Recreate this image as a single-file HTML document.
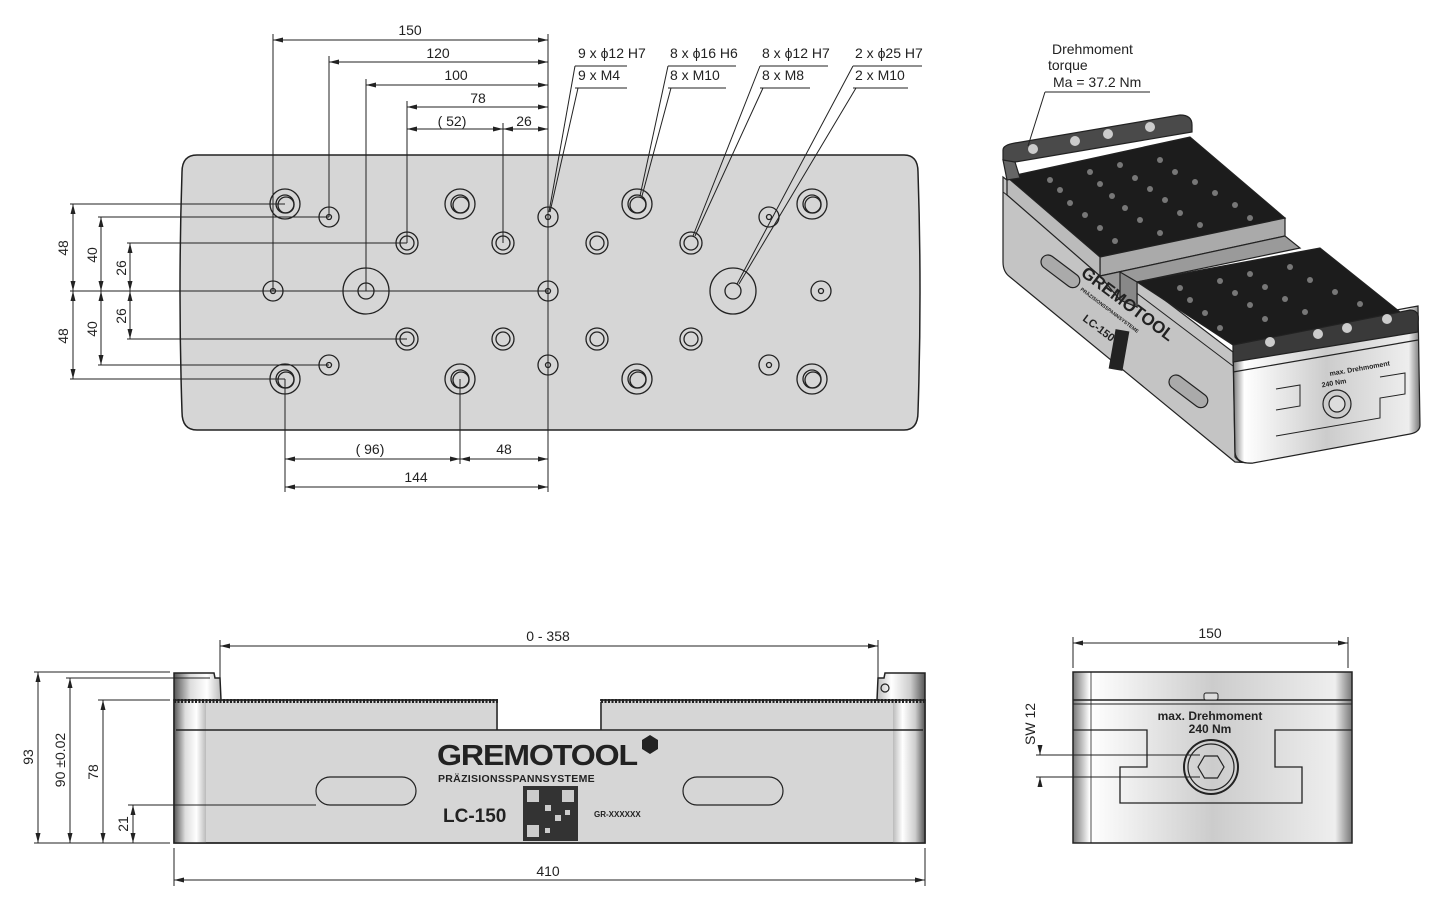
<!DOCTYPE html>
<html><head><meta charset="utf-8"><style>
html,body{margin:0;padding:0;background:#fff}
svg{display:block}
text{font-family:"Liberation Sans",sans-serif;fill:#222}
.d{font-size:14px;font-stretch:condensed}
</style></head><body>
<svg width="1445" height="923" viewBox="0 0 1445 923" xmlns="http://www.w3.org/2000/svg">
<defs>
<marker id="a" viewBox="0 0 10 6" refX="10" refY="3" markerWidth="10" markerHeight="6" orient="auto-start-reverse" markerUnits="userSpaceOnUse"><path d="M0,0.5L10,3L0,5.5z" fill="#222"/></marker>
<linearGradient id="cyl" x1="0" x2="1"><stop offset="0" stop-color="#555"/><stop offset="0.35" stop-color="#ddd"/><stop offset="0.7" stop-color="#fff"/><stop offset="1" stop-color="#bbb"/></linearGradient>
<linearGradient id="cylr" x1="0" x2="1"><stop offset="0" stop-color="#bbb"/><stop offset="0.3" stop-color="#fff"/><stop offset="0.7" stop-color="#ccc"/><stop offset="1" stop-color="#555"/></linearGradient>
<linearGradient id="side" x1="0" x2="1"><stop offset="0" stop-color="#777"/><stop offset="0.06" stop-color="#fff"/><stop offset="0.5" stop-color="#ccc"/><stop offset="0.94" stop-color="#eee"/><stop offset="1" stop-color="#777"/></linearGradient>
</defs>

<!-- ===== PLAN VIEW ===== -->
<path d="M197,155 L904,155 Q918,155 918,172 Q922,292 918,412 Q918,430 904,430 L197,430 Q182,430 182,412 Q178,292 182,172 Q182,155 197,155Z" fill="#d6d6d6" stroke="#222" stroke-width="1.5"/>
<g stroke="#222" fill="none" stroke-width="1.3">
<g><circle cx="285" cy="204" r="15"/><circle cx="285" cy="204" r="9"/><circle cx="286" cy="205" r="8"/></g>
<g><circle cx="460" cy="204" r="15"/><circle cx="460" cy="204" r="9"/><circle cx="461" cy="205" r="8"/></g>
<g><circle cx="637" cy="204" r="15"/><circle cx="637" cy="204" r="9"/><circle cx="638" cy="205" r="8"/></g>
<g><circle cx="812" cy="204" r="15"/><circle cx="812" cy="204" r="9"/><circle cx="813" cy="205" r="8"/></g>
<g><circle cx="285" cy="379" r="15"/><circle cx="285" cy="379" r="9"/><circle cx="286" cy="380" r="8"/></g>
<g><circle cx="460" cy="379" r="15"/><circle cx="460" cy="379" r="9"/><circle cx="461" cy="380" r="8"/></g>
<g><circle cx="637" cy="379" r="15"/><circle cx="637" cy="379" r="9"/><circle cx="638" cy="380" r="8"/></g>
<g><circle cx="812" cy="379" r="15"/><circle cx="812" cy="379" r="9"/><circle cx="813" cy="380" r="8"/></g>
<g><circle cx="329" cy="217" r="10"/><circle cx="329" cy="217" r="2.5"/></g>
<g><circle cx="548" cy="217" r="10"/><circle cx="548" cy="217" r="2.5"/></g>
<g><circle cx="769" cy="217" r="10"/><circle cx="769" cy="217" r="2.5"/></g>
<g><circle cx="329" cy="365" r="10"/><circle cx="329" cy="365" r="2.5"/></g>
<g><circle cx="548" cy="365" r="10"/><circle cx="548" cy="365" r="2.5"/></g>
<g><circle cx="769" cy="365" r="10"/><circle cx="769" cy="365" r="2.5"/></g>
<g><circle cx="273" cy="291" r="10"/><circle cx="273" cy="291" r="2.5"/></g>
<g><circle cx="548" cy="291" r="10"/><circle cx="548" cy="291" r="2.5"/></g>
<g><circle cx="821" cy="291" r="10"/><circle cx="821" cy="291" r="2.5"/></g>
<g><circle cx="407" cy="243" r="11"/><circle cx="407" cy="243" r="7"/></g>
<g><circle cx="503" cy="243" r="11"/><circle cx="503" cy="243" r="7"/></g>
<g><circle cx="597" cy="243" r="11"/><circle cx="597" cy="243" r="7"/></g>
<g><circle cx="691" cy="243" r="11"/><circle cx="691" cy="243" r="7"/></g>
<g><circle cx="407" cy="339" r="11"/><circle cx="407" cy="339" r="7"/></g>
<g><circle cx="503" cy="339" r="11"/><circle cx="503" cy="339" r="7"/></g>
<g><circle cx="597" cy="339" r="11"/><circle cx="597" cy="339" r="7"/></g>
<g><circle cx="691" cy="339" r="11"/><circle cx="691" cy="339" r="7"/></g>
<g><circle cx="366" cy="291" r="23"/><circle cx="366" cy="291" r="8"/></g>
<g><circle cx="733" cy="291" r="23"/><circle cx="733" cy="291" r="8"/></g>
</g>
<g stroke="#222" stroke-width="1" fill="none">
<line x1="273" y1="34" x2="273" y2="291"/>
<line x1="329" y1="56" x2="329" y2="217"/>
<line x1="366" y1="79" x2="366" y2="291"/>
<line x1="407" y1="101" x2="407" y2="243"/>
<line x1="503" y1="123" x2="503" y2="243"/>
<line x1="548" y1="34" x2="548" y2="492"/>
<line x1="285" y1="379" x2="285" y2="492"/>
<line x1="460" y1="379" x2="460" y2="464"/>
<line x1="70" y1="291" x2="548" y2="291"/>
<line x1="70" y1="204" x2="285" y2="204"/>
<line x1="70" y1="379" x2="285" y2="379"/>
<line x1="98" y1="217" x2="329" y2="217"/>
<line x1="98" y1="365" x2="329" y2="365"/>
<line x1="127" y1="243" x2="407" y2="243"/>
<line x1="127" y1="339" x2="407" y2="339"/>
<line x1="273" y1="40" x2="548" y2="40" marker-start="url(#a)" marker-end="url(#a)"/>
<line x1="329" y1="62" x2="548" y2="62" marker-start="url(#a)" marker-end="url(#a)"/>
<line x1="366" y1="85" x2="548" y2="85" marker-start="url(#a)" marker-end="url(#a)"/>
<line x1="407" y1="107" x2="548" y2="107" marker-start="url(#a)" marker-end="url(#a)"/>
<line x1="407" y1="129" x2="503" y2="129" marker-start="url(#a)" marker-end="url(#a)"/>
<line x1="503" y1="129" x2="548" y2="129" marker-start="url(#a)" marker-end="url(#a)"/>
<line x1="285" y1="459" x2="460" y2="459" marker-start="url(#a)" marker-end="url(#a)"/>
<line x1="460" y1="459" x2="548" y2="459" marker-start="url(#a)" marker-end="url(#a)"/>
<line x1="285" y1="487" x2="548" y2="487" marker-start="url(#a)" marker-end="url(#a)"/>
<line x1="73" y1="204" x2="73" y2="291" marker-start="url(#a)" marker-end="url(#a)"/>
<line x1="73" y1="291" x2="73" y2="379" marker-start="url(#a)" marker-end="url(#a)"/>
<line x1="101" y1="217" x2="101" y2="291" marker-start="url(#a)" marker-end="url(#a)"/>
<line x1="101" y1="291" x2="101" y2="365" marker-start="url(#a)" marker-end="url(#a)"/>
<line x1="130" y1="243" x2="130" y2="291" marker-start="url(#a)" marker-end="url(#a)"/>
<line x1="130" y1="291" x2="130" y2="339" marker-start="url(#a)" marker-end="url(#a)"/>
<line x1="575" y1="66" x2="627" y2="66"/><line x1="575" y1="88" x2="627" y2="88"/>
<line x1="575" y1="66" x2="549" y2="212"/><line x1="578" y1="88" x2="550" y2="212"/>
<line x1="668" y1="66" x2="736" y2="66"/><line x1="668" y1="88" x2="726" y2="88"/>
<line x1="668" y1="66" x2="640" y2="196"/><line x1="671" y1="88" x2="642" y2="196"/>
<line x1="760" y1="66" x2="828" y2="66"/><line x1="760" y1="88" x2="810" y2="88"/>
<line x1="760" y1="66" x2="693" y2="236"/><line x1="763" y1="88" x2="695" y2="236"/>
<line x1="853" y1="66" x2="922" y2="66"/><line x1="853" y1="88" x2="908" y2="88"/>
<line x1="853" y1="66" x2="737" y2="284"/><line x1="856" y1="88" x2="739" y2="284"/>
</g>
<g class="d" text-anchor="middle">
<text x="410" y="35">150</text><text x="438" y="58">120</text><text x="456" y="80">100</text>
<text x="478" y="103">78</text><text x="452" y="126">( 52)</text><text x="524" y="126">26</text>
<text x="370" y="454">( 96)</text><text x="504" y="454">48</text><text x="416" y="482">144</text>
<text transform="translate(68,248) rotate(-90)">48</text>
<text transform="translate(68,336) rotate(-90)">48</text>
<text transform="translate(97,255) rotate(-90)">40</text>
<text transform="translate(97,329) rotate(-90)">40</text>
<text transform="translate(126,268) rotate(-90)">26</text>
<text transform="translate(126,316) rotate(-90)">26</text>
</g>
<g class="d">
<text x="578" y="58">9 x ϕ12 H7</text><text x="578" y="80">9 x M4</text>
<text x="670" y="58">8 x ϕ16 H6</text><text x="670" y="80">8 x M10</text>
<text x="762" y="58">8 x ϕ12 H7</text><text x="762" y="80">8 x M8</text>
<text x="855" y="58">2 x ϕ25 H7</text><text x="855" y="80">2 x M10</text>
</g>

<!-- ===== ISOMETRIC ===== -->
<g stroke="#222" stroke-width="1.2">
<path d="M1003,177 L1233,352 L1235,457 Q1240,464 1253,463 L1235,462 L1010,277 Q1003,272 1003,262Z" fill="#c4c4c4"/>
<line x1="1003" y1="192" x2="1233" y2="366" stroke-width="1"/>
<path d="M1233,340 L1418,306 L1420,425 Q1420,432 1410,434 L1253,463 Q1236,464 1235,452Z" fill="url(#side)"/>
<path d="M1233,360 L1418,330" fill="none"/><path d="M1233,372 L1418,340" fill="none"/>
<path d="M1007,177 L1190,137 L1285,218 L1100,257Z" fill="#1c1c1c"/>
<path d="M1100,257 L1285,218 L1285,236 L1100,276Z" fill="#aaa"/>
<path d="M1007,177 L1100,257 L1100,276 L1007,195Z" fill="#bbb"/>
<path d="M1100,276 L1285,236 L1300,248 L1137,282 L1137,307 L1120,300Z" fill="#9a9a9a"/>
<path d="M1137,282 L1320,248 L1400,312 L1233,345Z" fill="#1c1c1c"/>
<path d="M1120,272 L1137,282 L1137,307 L1120,300Z" fill="#888"/>
<path d="M1003,150 Q1003,145 1015,143 L1180,115 Q1192,115 1192,125 L1192,132 L1015,162 Q1005,164 1003,160Z" fill="#4a4a4a"/>
<path d="M1003,160 L1015,162 L1020,178 L1007,180Z" fill="#666"/>
<path d="M1233,345 L1410,310 Q1420,310 1418,322 L1418,332 L1233,362Z" fill="#3a3a3a"/>
<rect x="1038" y="264" width="45" height="14" rx="7" transform="rotate(37 1060 271)" fill="#aaa"/>
<rect x="1166" y="384" width="45" height="14" rx="7" transform="rotate(37 1188 391)" fill="#aaa"/>
<path d="M1276,410 L1300,406 L1300,385 L1276,389" fill="none" stroke-width="1"/>
<path d="M1276,436 L1380,418 L1380,398 L1405,394 L1405,373 L1380,377" fill="none" stroke-width="1"/>
<circle cx="1337" cy="404" r="14" fill="#ccc"/><circle cx="1337" cy="404" r="8" fill="#ddd"/>
</g>
<g fill="#ccc">
<circle cx="1033" cy="149" r="5"/><circle cx="1075" cy="141" r="5"/><circle cx="1108" cy="134" r="5"/><circle cx="1150" cy="127" r="5"/>
<circle cx="1270" cy="342" r="5"/><circle cx="1318" cy="334" r="5"/><circle cx="1347" cy="328" r="5"/><circle cx="1387" cy="319" r="5"/>
</g>
<g fill="#777">
<circle cx="1050" cy="180" r="3"/><circle cx="1090" cy="172" r="3"/><circle cx="1120" cy="165" r="3"/><circle cx="1160" cy="160" r="3"/>
<circle cx="1060" cy="190" r="3"/><circle cx="1100" cy="184" r="3"/><circle cx="1135" cy="178" r="3"/><circle cx="1175" cy="172" r="3"/>
<circle cx="1070" cy="203" r="3"/><circle cx="1112" cy="196" r="3"/><circle cx="1150" cy="189" r="3"/><circle cx="1195" cy="182" r="3"/>
<circle cx="1085" cy="215" r="3"/><circle cx="1125" cy="208" r="3"/><circle cx="1165" cy="200" r="3"/><circle cx="1215" cy="193" r="3"/>
<circle cx="1100" cy="228" r="3"/><circle cx="1140" cy="220" r="3"/><circle cx="1180" cy="213" r="3"/><circle cx="1235" cy="205" r="3"/>
<circle cx="1115" cy="241" r="3"/><circle cx="1160" cy="233" r="3"/><circle cx="1200" cy="225" r="3"/><circle cx="1250" cy="218" r="3"/>
<circle cx="1180" cy="288" r="3"/><circle cx="1220" cy="281" r="3"/><circle cx="1250" cy="274" r="3"/><circle cx="1290" cy="267" r="3"/>
<circle cx="1190" cy="300" r="3"/><circle cx="1235" cy="293" r="3"/><circle cx="1265" cy="287" r="3"/><circle cx="1310" cy="280" r="3"/>
<circle cx="1205" cy="313" r="3"/><circle cx="1250" cy="305" r="3"/><circle cx="1285" cy="299" r="3"/><circle cx="1335" cy="292" r="3"/>
<circle cx="1220" cy="328" r="3"/><circle cx="1265" cy="319" r="3"/><circle cx="1305" cy="312" r="3"/><circle cx="1360" cy="304" r="3"/>
</g>
<g font-weight="bold" font-family="Liberation Sans">
<text transform="translate(1080,275) rotate(37)" font-size="17" fill="#222">GREMOTOOL</text>
<text transform="translate(1080,290) rotate(37)" font-size="5" fill="#222">PRÄZISIONSSPANNSYSTEME</text>
<text transform="translate(1082,320) rotate(37)" font-size="11" fill="#222">LC-150</text>
</g>
<rect x="1112" y="330" width="14" height="40" fill="#222" transform="rotate(10 1119 350)"/>
<text x="1330" y="376" font-size="7" font-weight="bold" transform="rotate(-10 1330 376)">max. Drehmoment</text>
<text x="1322" y="386" font-size="7" font-weight="bold" transform="rotate(-10 1330 386)">240 Nm</text>
<line x1="1045" y1="92" x2="1028" y2="146" stroke="#222" stroke-width="1"/>
<line x1="1045" y1="92" x2="1150" y2="92" stroke="#222" stroke-width="1"/>
<text x="1052" y="54" font-size="14">Drehmoment</text>
<text x="1048" y="70" font-size="14">torque</text>
<text x="1053" y="87" font-size="14">Ma = 37.2 Nm</text>

<!-- ===== FRONT VIEW ===== -->
<g stroke="#222" stroke-width="1.5">
<rect x="174" y="700" width="751" height="143" fill="#d6d6d6"/>
<rect x="174" y="700" width="32" height="143" fill="url(#cyl)" stroke="none"/>
<rect x="893" y="700" width="32" height="143" fill="url(#cylr)" stroke="none"/>
<rect x="174" y="700" width="751" height="143" fill="none"/>
<path d="M174,673 L214,673 L215,678 L220,678 L221,700 L174,700Z" fill="url(#cyl)"/>
<path d="M925,673 L885,673 L884,678 L878,678 L877,700 L925,700Z" fill="url(#cylr)"/>
</g>
<line x1="174" y1="701" x2="925" y2="701" stroke="#222" stroke-width="4" stroke-dasharray="2 1.5"/>
<rect x="498" y="698" width="102" height="31" fill="#fff"/>
<g stroke="#222" stroke-width="1.5" fill="none">
<path d="M497,702 L497,730 M601,730 L601,702"/>
<line x1="176" y1="730" x2="923" y2="730"/>
<rect x="316" y="777" width="100" height="28" rx="14" stroke-width="1.2"/>
<rect x="683" y="777" width="100" height="28" rx="14" stroke-width="1.2"/>
<circle cx="885" cy="688" r="4" stroke-width="1.2"/>
</g>
<text x="437" y="765" font-size="29" font-weight="bold" fill="#222" letter-spacing="-1" textLength="200" lengthAdjust="spacingAndGlyphs">GREMOTOOL</text>
<path d="M642,740 l8,-5 8,5 0,9 -8,5 -8,-5z" fill="#222"/>
<text x="438" y="782" font-size="10.5" font-weight="bold" letter-spacing="0.3">PRÄZISIONSSPANNSYSTEME</text>
<text x="443" y="822" font-size="19" font-weight="bold">LC-150</text>
<g fill="#222">
<rect x="523" y="786" width="55" height="55" fill="#333"/>
<rect x="527" y="790" width="12" height="12" fill="#ccc"/><rect x="562" y="790" width="12" height="12" fill="#ccc"/><rect x="527" y="825" width="12" height="12" fill="#ccc"/>
<rect x="545" y="805" width="6" height="6" fill="#ccc"/><rect x="555" y="815" width="6" height="6" fill="#ccc"/><rect x="545" y="828" width="5" height="5" fill="#ccc"/><rect x="565" y="810" width="5" height="5" fill="#ccc"/>
</g>
<text x="594" y="817" font-size="8" font-weight="bold">GR-XXXXXX</text>
<g stroke="#222" stroke-width="1" fill="none">
<line x1="220" y1="640" x2="220" y2="678"/><line x1="878" y1="640" x2="878" y2="678"/>
<line x1="220" y1="646" x2="878" y2="646" marker-start="url(#a)" marker-end="url(#a)"/>
<line x1="174" y1="848" x2="174" y2="886"/><line x1="925" y1="848" x2="925" y2="886"/>
<line x1="174" y1="880" x2="925" y2="880" marker-start="url(#a)" marker-end="url(#a)"/>
<line x1="34" y1="672" x2="170" y2="672"/><line x1="34" y1="843" x2="170" y2="843"/>
<line x1="66" y1="678" x2="210" y2="678"/><line x1="98" y1="700" x2="170" y2="700"/>
<line x1="128" y1="805" x2="316" y2="805"/>
<line x1="38" y1="672" x2="38" y2="843" marker-start="url(#a)" marker-end="url(#a)"/>
<line x1="70" y1="678" x2="70" y2="843" marker-start="url(#a)" marker-end="url(#a)"/>
<line x1="103" y1="700" x2="103" y2="843" marker-start="url(#a)" marker-end="url(#a)"/>
<line x1="133" y1="805" x2="133" y2="843" marker-start="url(#a)" marker-end="url(#a)"/>
</g>
<g class="d" text-anchor="middle">
<text x="548" y="641">0 - 358</text><text x="548" y="876">410</text>
<text transform="translate(33,757) rotate(-90)">93</text>
<text transform="translate(65,760) rotate(-90)">90 ±0.02</text>
<text transform="translate(98,772) rotate(-90)">78</text>
<text transform="translate(128,824) rotate(-90)">21</text>
</g>

<!-- ===== SIDE VIEW ===== -->
<g stroke="#222" stroke-width="1.5">
<rect x="1073" y="672" width="279" height="171" fill="url(#side)"/>
<line x1="1073" y1="700" x2="1352" y2="700"/>
<line x1="1073" y1="704" x2="1352" y2="704" stroke-width="1"/>
<line x1="1091" y1="672" x2="1091" y2="843" stroke-width="0.8"/>
<rect x="1204" y="693" width="14" height="7" rx="2" fill="#ddd" stroke-width="1"/>
<path d="M1073,730 L1147,730 L1147,767 L1120,767 L1120,803 L1302,803 L1302,767 L1275,767 L1275,730 L1352,730" fill="none" stroke-width="1.3"/>
<circle cx="1211" cy="767" r="27" fill="none" stroke-width="2"/>
<circle cx="1211" cy="767" r="23" fill="none" stroke-width="1.2"/>
<polygon points="1198,767 1204.5,756 1217.5,756 1224,767 1217.5,778 1204.5,778" fill="none" stroke-width="1.2"/>
</g>
<text x="1210" y="720" font-size="12" font-weight="bold" text-anchor="middle">max. Drehmoment</text>
<text x="1210" y="733" font-size="12" font-weight="bold" text-anchor="middle">240 Nm</text>
<g stroke="#222" stroke-width="1" fill="none">
<line x1="1073" y1="637" x2="1073" y2="668"/><line x1="1348" y1="637" x2="1348" y2="668"/>
<line x1="1073" y1="643" x2="1348" y2="643" marker-start="url(#a)" marker-end="url(#a)"/>
<line x1="1036" y1="755" x2="1200" y2="755"/><line x1="1036" y1="777" x2="1200" y2="777"/>
<line x1="1040" y1="745" x2="1040" y2="755" marker-end="url(#a)"/>
<line x1="1040" y1="787" x2="1040" y2="777" marker-end="url(#a)"/>
</g>
<text class="d" transform="translate(1035,745) rotate(-90)">SW 12</text>
<text class="d" x="1210" y="638" text-anchor="middle">150</text>
</svg>
</body></html>
